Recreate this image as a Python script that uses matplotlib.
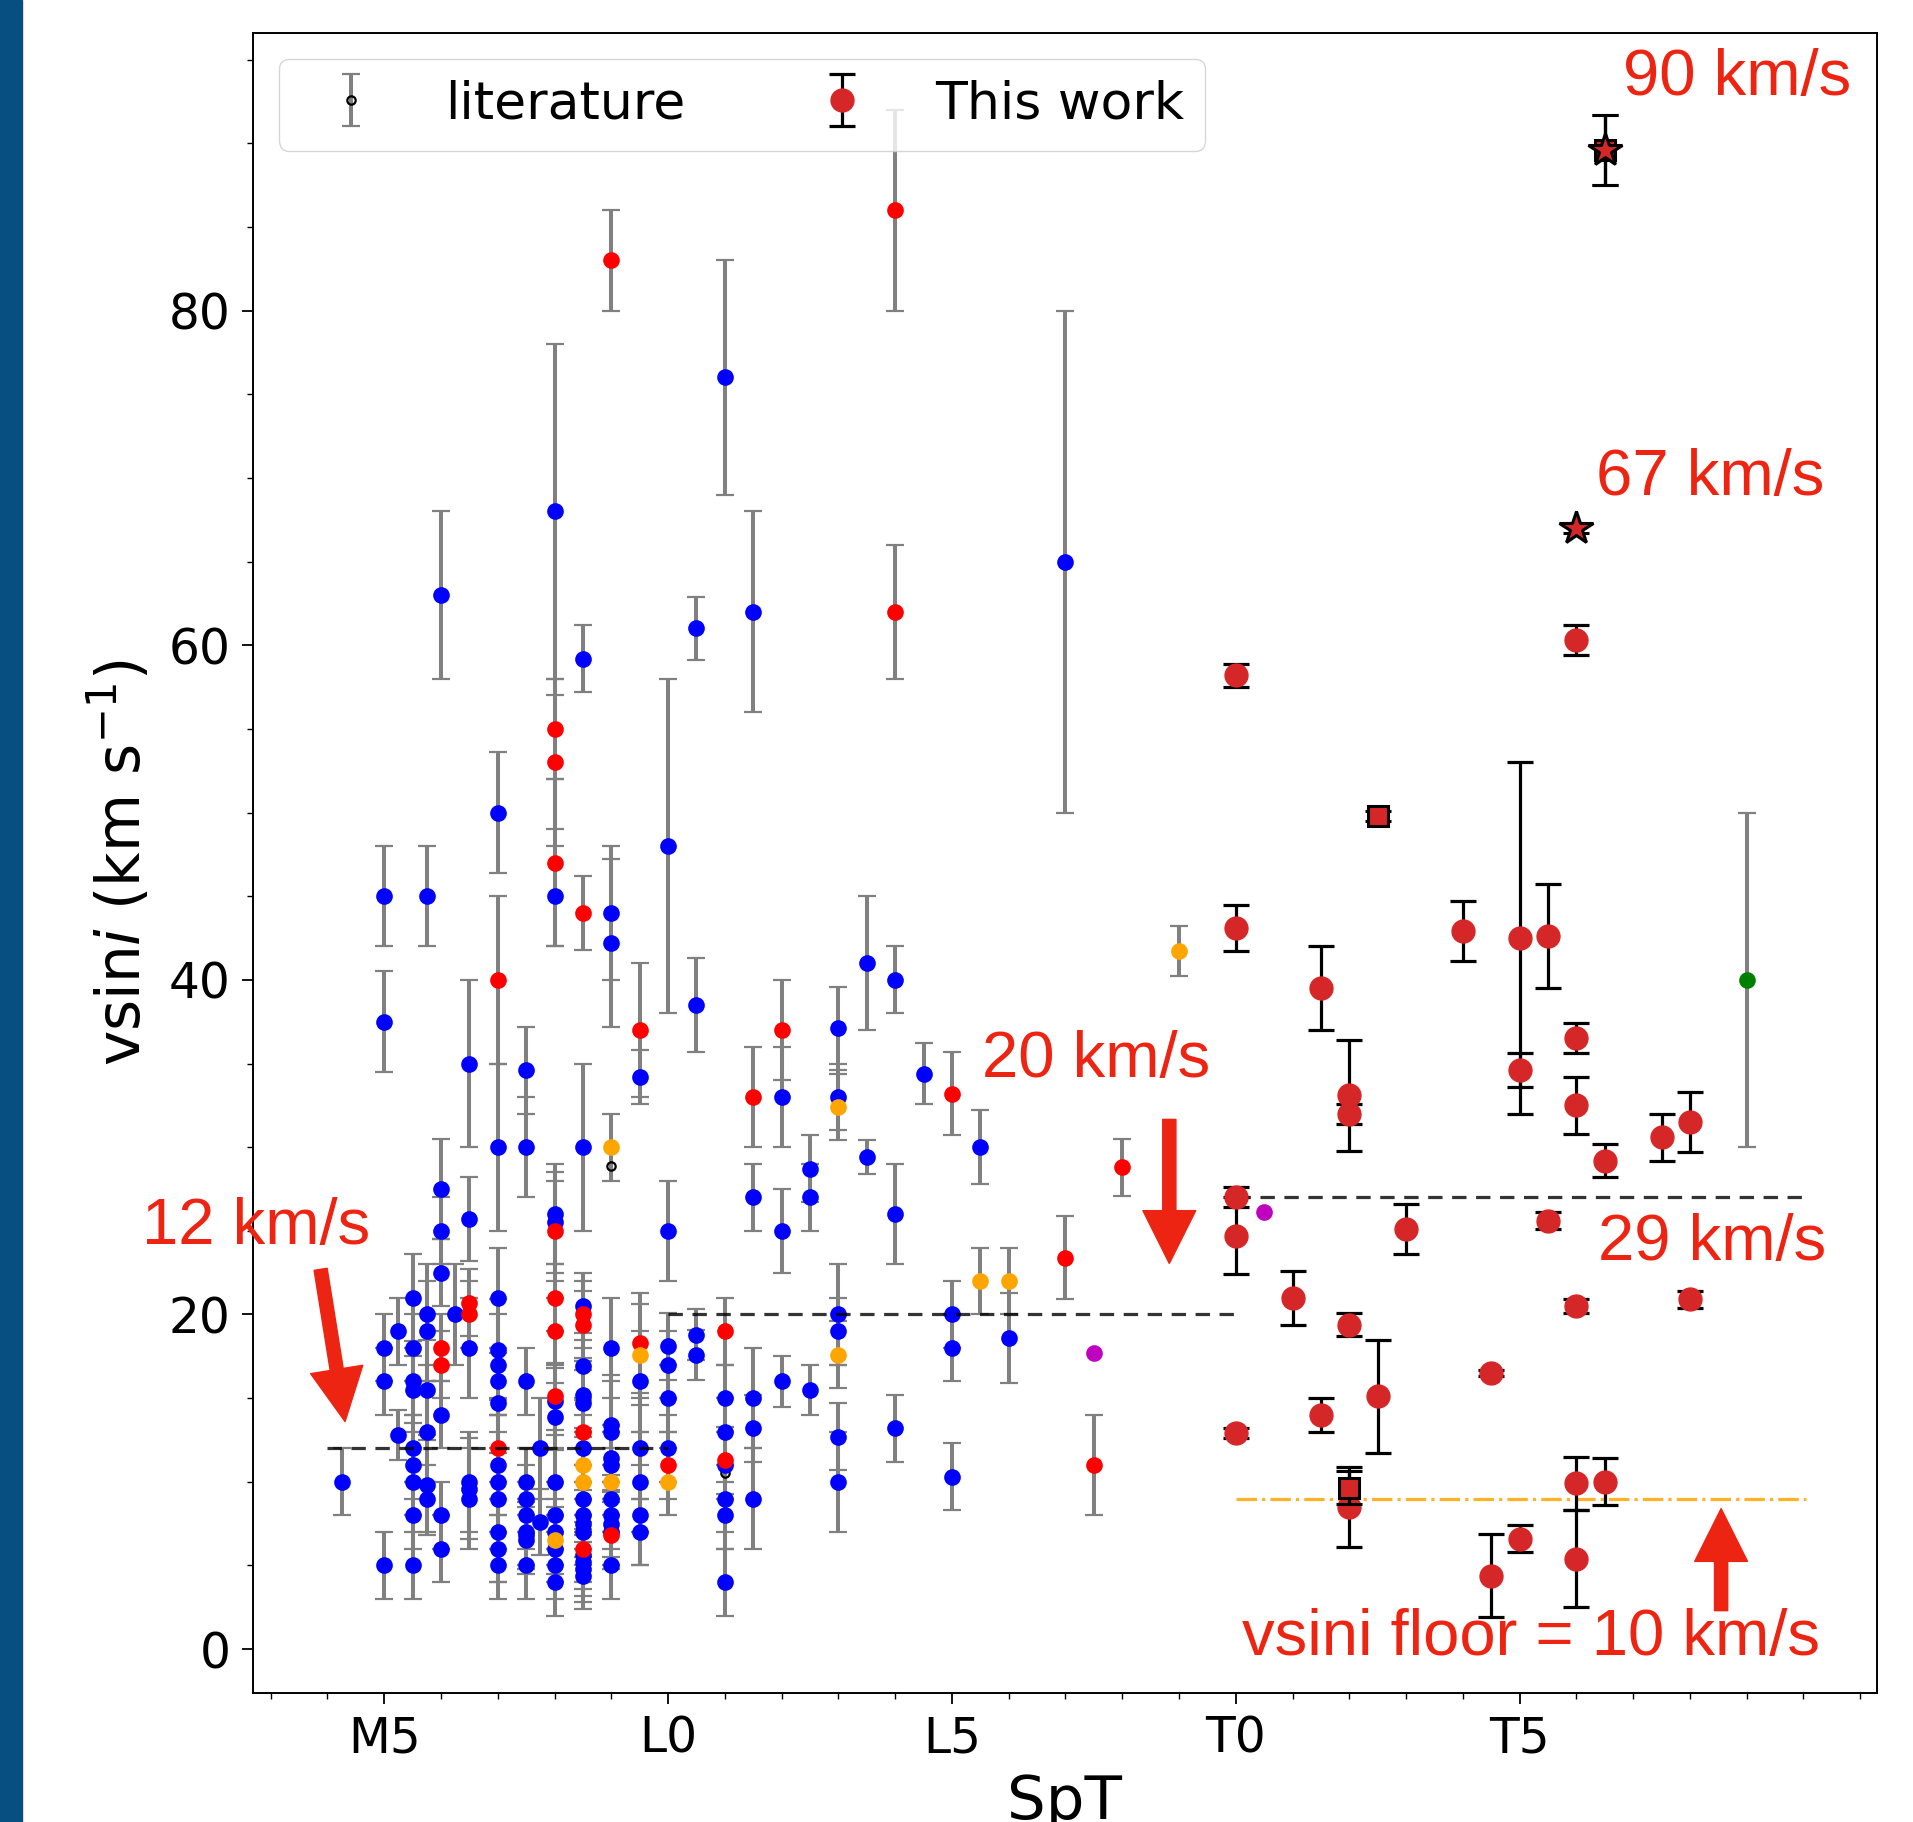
import numpy as np
import matplotlib
matplotlib.use("Agg")
import matplotlib.pyplot as plt
from matplotlib.patches import Rectangle

# ---------------- data ----------------
# literature: spectral type (M0=10, L0=20, T0=30), vsini, error, colour code
lit_spt = [
    14.25,
    15, 15, 15, 15, 15,
    15.25, 15.25,
    15.5, 15.5, 15.5, 15.5, 15.5, 15.5, 15.5, 15.5, 15.5,
    15.75, 15.75, 15.75, 15.75, 15.75, 15.75, 15.75,
    16, 16, 16, 16, 16, 16, 16, 16, 16,
    16.25,
    16.5, 16.5, 16.5, 16.5, 16.5, 16.5, 16.5, 16.5,
    17, 17, 17, 17, 17, 17, 17, 17, 17, 17, 17, 17, 17, 17, 17,
    17.5, 17.5, 17.5, 17.5, 17.5, 17.5, 17.5, 17.5, 17.5, 17.5,
    17.75, 17.75,
    18, 18, 18, 18, 18, 18, 18, 18, 18, 18, 18, 18, 18, 18, 18, 18, 18, 18, 18, 18,
    18.5, 18.5, 18.5, 18.5, 18.5, 18.5, 18.5, 18.5, 18.5, 18.5, 18.5, 18.5, 18.5, 18.5,
    18.5, 18.5, 18.5, 18.5, 18.5, 18.5, 18.5, 18.5,
    19, 19, 19, 19, 19, 19, 19, 19, 19, 19, 19, 19, 19, 19, 19, 19, 19,
    19.5, 19.5, 19.5, 19.5, 19.5, 19.5, 19.5, 19.5, 19.5,
    20, 20, 20, 20, 20, 20, 20, 20,
    20.5, 20.5, 20.5, 20.5,
    21, 21, 21, 21, 21, 21, 21, 21, 21, 21,
    21.5, 21.5, 21.5, 21.5, 21.5, 21.5,
    22, 22, 22, 22,
    22.5, 22.5, 22.5,
    23, 23, 23, 23, 23, 23, 23, 23,
    23.5, 23.5,
    24, 24, 24, 24, 24,
    24.5,
    25, 25, 25, 25,
    25.5, 25.5,
    26, 26,
    27, 27,
    27.5, 27.5,
    28,
    29,
    30.5,
    39,
]
lit_vsini = [
    10,
    45, 37.5, 18, 16, 5,
    19, 12.8,
    21, 18, 16, 15.5, 12, 11, 10, 8, 5,
    45, 20, 19, 15.5, 13, 9.8, 9,
    63, 27.5, 25, 22.5, 18, 17, 14, 8, 6,
    20,
    35, 25.7, 20.7, 20, 18, 10, 9.6, 9,
    50, 40, 30, 21, 17.9, 17, 16, 14.7, 12, 11, 10, 9, 7, 6, 5,
    34.6, 30, 16, 10, 9, 8, 7, 6.8, 6.5, 5,
    12, 7.6,
    68, 55, 53, 47, 45, 26, 25.5, 25, 21, 19, 15.1, 14.8, 13.9, 10, 8, 7, 6.5, 6, 5, 4,
    59.2, 44, 30, 20.5, 20, 19.4, 16.9, 15.2, 14.7, 13, 12, 11, 10, 9,
    8, 7.5, 7, 6, 5.6, 5.2, 4.8, 4.4,
    83, 44, 42.2, 30, 28.9, 18, 13.4, 13, 11.4, 11, 10, 9, 8, 7.5, 6.8, 7, 5,
    37, 34.2, 18.3, 17.6, 16, 12, 10, 8, 7,
    48, 25, 18.1, 17, 15, 12, 11, 10,
    61, 38.5, 18.8, 17.6,
    76, 19, 15, 13, 11.3, 11, 10.5, 9, 8, 4,
    62, 33, 27, 15, 13.2, 9,
    37, 33, 25, 16,
    28.7, 27, 15.5,
    37.1, 33, 32.4, 20, 19, 17.6, 12.7, 10,
    41, 29.4,
    86, 62, 40, 26, 13.2,
    34.4,
    33.2, 20, 18, 10.3,
    30, 22,
    22, 18.6,
    65, 23.4,
    17.7, 11,
    28.8,
    41.7,
    26.1,
    40,
]
lit_err = [
    2,
    3, 3, 2, 2, 2,
    2, 1.5,
    2.6, 2, 2, 2, 2, 2, 2, 2, 2,
    3, 3, 3, 3, 3, 3, 2,
    5, 3, 2, 2, 2, 2, 2, 2, 2,
    3,
    5, 2.5, 2, 2, 3, 3, 3, 3,
    3.6, 5, 5, 3, 3, 3, 2, 3, 3, 3, 3, 3, 3, 2, 2,
    2.6, 3, 2, 2, 2, 2, 2, 2, 2, 2,
    3, 2,
    10, 3, 4, 5, 3, 3, 3, 3, 2, 2, 2, 2, 2, 2, 2, 2, 2, 2, 2, 2,
    2, 2.2, 5, 2, 2, 2, 2, 2, 2, 2, 2, 2, 2, 2,
    2, 2, 2, 2, 2, 2, 2, 2,
    3, 4, 5, 2, np.nan, 3, 3, 3, 2, 2, 2, 2, 2, 2, 2, 2, 2,
    4, 1.6, 3, 3, 3, 3, 3, 3, 2,
    10, 3, 2, 2, 2, 2, 2, 2,
    1.9, 2.8, 1.5, 1.5,
    7, 2, 2, 2, 2, 2, np.nan, 2, 2, 2,
    6, 3, 2, 3, 2, 3,
    3, 3, 2.5, 1.5,
    2, 2, 1.5,
    2.5, 2, 2, 3, 2, 2, 2, 3,
    4, 1,
    6, 4, 2, 3, 2,
    1.8,
    2.5, 2, 2, 2,
    2.2, 2,
    2, 2.7,
    15, 2.5,
    np.nan, 3,
    1.7,
    1.5,
    np.nan,
    10,
]
lit_color = (
    "b"
    + "bbbbb"
    + "bb"
    + "bbbbbbbbb"
    + "bbbbbbb"
    + "bbbbrrbbb"
    + "b"
    + "bbrrbbbb"
    + "brbbbbbbrbbbbbb"
    + "bbbbbbbbbb"
    + "bb"
    + "brrrbbbrrrrbbbbbobbb"
    + "brbbrrbbbrboob"
    + "bbbrbbbb"
    + "rbbokbbbbbobbbrbb"
    + "rbrobbbbb"
    + "bbbbbbro"
    + "bbbb"
    + "brbbrbkbbb"
    + "brbbbb"
    + "rbbb"
    + "bbb"
    + "bbobbobb"
    + "bb"
    + "rrbbb"
    + "b"
    + "rbbb"
    + "bo"
    + "ob"
    + "br"
    + "mr"
    + "r"
    + "o"
    + "m"
    + "g"
)

# this work (circles)
tw_spt = [30, 30, 30, 30, 30, 31, 31.5, 31.5, 32, 32, 32, 32, 32.5, 33, 34,
          34.5, 34.5, 35, 35, 35, 35.5, 35.5, 36, 36, 36, 36, 36, 36,
          36.5, 36.5, 37.5, 38, 38]
tw_vsini = [58.2, 43.1, 27.0, 24.7, 12.9, 21.0, 39.5, 14.0, 33.1, 32.0, 19.4, 8.5,
            15.1, 25.1, 42.9, 16.5, 4.4, 42.5, 34.6, 6.6, 42.6, 25.6, 60.3, 36.5,
            32.5, 20.5, 9.9, 5.4, 29.2, 10.0, 30.6, 31.5, 20.9]
tw_err = [0.7, 1.4, 0.6, 2.3, 0.3, 1.6, 2.5, 1.0, 3.3, 0.6, 0.7, 2.4,
          3.4, 1.5, 1.8, 0.2, 2.5, 10.5, 1.0, 0.8, 3.1, 0.5, 0.9, 0.9,
          1.7, 0.4, 1.6, 2.9, 1.0, 1.4, 1.4, 1.8, 0.5]
# this work (squares)
sq_spt = [32, 32.5, 36.5]
sq_vsini = [9.65, 49.8, 89.6]
sq_err = [1.0, 0.3, 2.1]
# this work (stars)
star_spt = [36, 36.5]
star_vsini = [67.0, 89.6]
star_err = [0.3, 2.1]

# reference lines
floor_levels = [12, 20, 27]
floor_ranges = [(14.0, 20.0), (20.0, 30.0), (30.0, 40.0)]
vfloor = 9.0
vfloor_range = (30.0, 40.05)

xtick_pos = [15, 20, 25, 30, 35]
xtick_lab = ["M5", "L0", "L5", "T0", "T5"]

# ---------------- plot ----------------
RED_TXT = "#ee2412"
TW_RED = "#d62728"
col_map = {"b": "#0000ff", "r": "#ff0000", "o": "#ffa500", "m": "#bf00bf", "g": "#008000"}

fig = plt.figure(figsize=(19.13, 18.22), dpi=100)
fig.patches.append(Rectangle((0, 0), 0.0115, 1, transform=fig.transFigure,
                             color="#064f80", zorder=0))
ax = fig.add_axes([0.132, 0.071, 0.849, 0.911])

lit_x = np.array(lit_spt, float)
lit_y = np.array(lit_vsini, float)
lit_e = np.array(lit_err, float)
lit_c = np.array(list(lit_color))

h_lit = ax.errorbar(lit_x, lit_y, yerr=lit_e, fmt="o", ms=6, mfc="none", mec="k",
                    mew=1.6, ecolor="gray", elinewidth=2.9, capsize=6.5,
                    capthick=2.9, zorder=2)
for code, col in col_map.items():
    m = lit_c == code
    ax.plot(lit_x[m], lit_y[m], "o", color=col, ms=12, mew=0, ls="none", zorder=3)

h_tw = ax.errorbar(tw_spt, tw_vsini, yerr=tw_err, fmt="o", color=TW_RED, ms=16.5,
                   ecolor="k", elinewidth=2.3, capsize=9.5, capthick=2.3, zorder=5)
ax.errorbar(sq_spt, sq_vsini, yerr=sq_err, fmt="s", mfc=TW_RED, mec="k", mew=2.2,
            ms=15, ecolor="k", elinewidth=2.3, capsize=9.5, capthick=2.3, zorder=6)
ax.errorbar(star_spt, star_vsini, yerr=star_err, fmt="*", mfc=TW_RED, mec="k", mew=2.2,
            ms=25, ecolor="k", elinewidth=2.3, capsize=9.5, capthick=2.3, zorder=7)

for lev, (x0, x1) in zip(floor_levels, floor_ranges):
    ax.plot([x0, x1], [lev, lev], color="k", alpha=0.8, lw=2.3, ls=(0, (4.5, 3)), zorder=4)
ax.plot(list(vfloor_range), [vfloor, vfloor], color="orange", alpha=0.85, lw=2.3,
        ls="-.", zorder=4)

ax.set_xlim(12.68, 41.29)
ax.set_ylim(-2.6, 96.6)
ax.set_xticks(xtick_pos)
ax.set_xticklabels(xtick_lab)
ax.set_xticks(np.arange(13, 42, 1), minor=True)
ax.set_yticks([0, 20, 40, 60, 80])
ax.set_yticks(np.arange(0, 96, 5), minor=True)
ax.tick_params(which="major", length=8, width=1.3, labelsize=35, pad=8)
ax.tick_params(which="minor", length=4.5, width=1.0)
for sp in ax.spines.values():
    sp.set_linewidth(1.4)

ax.set_xlabel("SpT", fontsize=44, labelpad=7)
ax.set_ylabel(r"vsin$i$ (km s$^{-1}$)", fontsize=43, labelpad=10)

ax.legend([h_lit, h_tw], ["literature", "This work"], loc="upper left", ncol=2,
          fontsize=37.5, borderaxespad=0.5)

tfont = dict(family=["Liberation Sans", "DejaVu Sans"], fontsize=47, color=RED_TXT,
             ha="center", va="center")
ax.text(12.74, 25.2, "12 km/s", **tfont)
ax.text(27.54, 35.2, "20 km/s", **tfont)
ax.text(38.4, 24.3, "29 km/s", **tfont)
ax.text(35.2, 0.66, "vsini floor = 10 km/s", **tfont)
ax.text(38.83, 93.9, "90 km/s", **tfont)
ax.text(38.35, 70.0, "67 km/s", **tfont)

ap = dict(facecolor=RED_TXT, edgecolor=RED_TXT, width=9.5, headwidth=38,
          headlength=38, shrink=0)
ax.annotate("", xy=(14.31, 13.6), xytext=(13.88, 22.7), arrowprops=ap, zorder=8)
ax.annotate("", xy=(28.83, 23.05), xytext=(28.83, 31.66), arrowprops=ap, zorder=8)
ax.annotate("", xy=(38.55, 8.4), xytext=(38.55, 2.3), arrowprops=ap, zorder=8)

fig.savefig("out.png", dpi=100)
